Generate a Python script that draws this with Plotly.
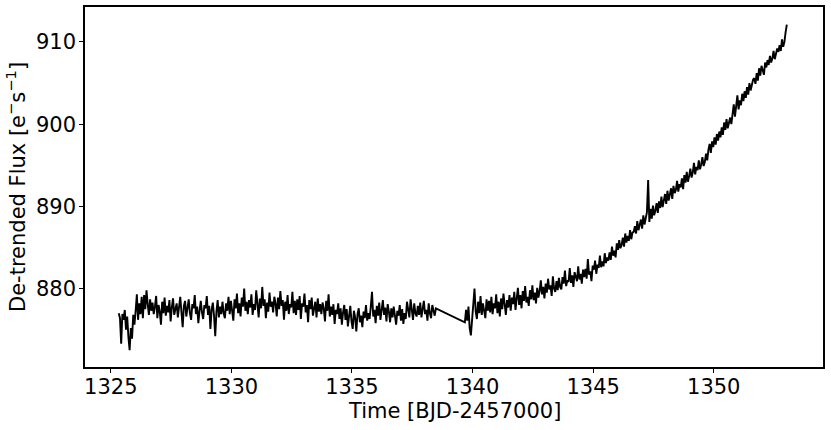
import numpy as np
import plotly.graph_objects as go

# Segment 1 (orbit 1), cadence 0.05 d starting 1325.33
t1_start = 1325.33
flux1 = [
    877.0, 876.4, 873.3, 876.9,
    876.2, 877.4, 875.0, 876.6, 874.1, 872.5, 875.2, 873.9, 876.8, 875.6,
    877.3, 879.3, 876.2, 878.2, 876.9, 879.0, 876.4, 879.2, 877.5, 879.8, 878.1, 876.8, 878.7, 877.3,
    878.3, 876.9, 877.8, 879.1, 876.4, 878.0, 877.2, 875.6, 878.4, 877.0, 878.9, 876.7, 877.9, 877.1, 878.6, 876.0, 877.7, 878.8, 876.8, 877.5,
    878.2, 876.5, 877.6, 879.0, 877.1, 875.3, 877.9, 878.5, 876.6, 877.4, 878.7, 877.0, 876.2, 878.1, 877.6, 879.2, 876.9, 877.8, 875.8, 877.3,
    878.5, 877.1, 876.3, 878.0, 877.6, 879.1, 876.8, 877.9, 875.1, 877.4, 878.3, 876.7, 874.2, 877.2, 878.6, 876.5, 877.8, 876.9, 878.4, 877.0,
    876.4, 878.2, 877.3, 879.0, 876.9, 878.5, 877.5, 876.1, 878.7, 877.6, 879.4, 877.0, 878.2, 876.6, 878.9, 877.8, 880.0, 877.3, 878.4, 876.9,
    878.6, 877.7, 879.3, 876.8, 878.1, 877.4, 879.8, 878.0, 876.5, 878.8, 877.6, 880.2, 877.9, 878.7, 876.4, 878.3, 877.2, 879.5, 877.8, 878.4,
    877.1, 879.0, 878.2, 876.6, 878.9, 877.5, 879.7, 877.9, 878.6, 876.2, 878.4, 877.3, 879.2, 876.9, 878.1, 877.7, 879.6, 877.0, 878.5, 876.8,
    878.7, 877.4, 879.1, 876.3, 878.2, 877.8, 879.4, 877.1, 878.0, 875.9, 878.6, 877.5, 878.9, 876.7, 877.9, 878.4, 876.5, 878.8, 877.2, 878.1,
    876.9, 878.3, 877.6, 876.0, 878.5, 877.3, 879.3, 876.6, 877.8, 876.8, 878.1, 875.7, 877.4, 876.9, 878.2, 876.3, 877.6, 875.6, 877.1, 878.0,
    876.2, 877.5, 875.4, 876.8, 877.9, 876.0, 875.1, 877.3, 876.5, 874.8, 876.9, 877.6, 875.9, 876.7, 875.3, 877.2, 876.4, 878.0, 876.1, 877.0,
    876.3, 877.8, 879.6, 876.6, 877.4, 875.8, 877.9, 876.7, 878.3, 876.2, 877.5, 878.6, 876.8, 877.7, 876.0, 878.1, 877.2, 875.9, 877.6, 876.5,
    877.8, 876.4, 875.6, 877.3, 876.7, 878.0, 876.1, 877.5, 875.7, 877.0, 876.3, 878.4, 877.1, 876.5, 878.7, 877.4, 876.2, 878.2, 877.0, 876.6,
    877.9, 876.8, 878.3, 876.5, 877.6, 878.5, 876.9, 877.4, 876.1, 878.2, 877.0, 876.4, 878.0, 877.3, 876.7, 877.6,
]

# Segment 2 (orbit 2), cadence 0.05 d starting 1339.68
t2_start = 1339.68
flux2 = [
    875.9, 877.4, 876.1, 877.8, 875.2, 874.3, 876.5, 878.9, 880.0, 877.2, 876.3, 878.4, 877.0, 879.1, 876.8, 878.2, 877.5, 876.4, 878.7, 877.3,
    878.5, 877.1, 879.0, 876.9, 878.2, 877.6, 879.3, 877.0, 878.4, 876.6, 878.8, 877.5, 879.4, 877.9, 876.8, 878.6, 877.7, 879.2, 877.3, 878.9,
    878.1, 879.6, 877.4, 878.8, 880.1, 878.0, 879.2, 877.6, 879.7, 878.5, 880.3, 878.3, 879.0, 877.9, 879.8, 878.7, 880.4, 878.6, 879.5, 878.2,
    880.1, 878.9, 879.7, 881.0, 879.3, 880.2, 878.8, 880.6, 879.5, 881.2, 879.9, 880.4, 879.1, 881.5, 880.0, 879.6, 880.9, 879.8, 881.3, 880.2,
    879.9, 881.4, 880.6, 882.2, 880.3, 881.0, 880.8, 882.5, 880.7, 881.6, 880.2, 882.0, 881.3, 880.9, 882.7, 881.1, 881.8, 880.6, 882.3, 881.4,
    882.4, 881.2, 883.6, 881.7, 882.1, 880.9, 882.8, 882.3, 883.4, 881.8, 882.9, 882.5, 884.0, 882.6, 883.3, 882.7, 884.3, 883.1, 883.8, 883.4,
    884.4, 883.5, 885.1, 884.0, 884.6, 883.8, 885.5, 884.7, 885.9, 884.9, 885.3, 886.2, 885.1, 886.7, 885.6, 886.4, 885.8, 887.1, 886.0, 886.8,
    886.9, 887.6, 886.7, 888.2, 887.1, 887.9, 888.4, 887.3, 888.9, 887.8, 888.6, 889.3, 893.2, 888.1, 889.7, 888.5, 890.1, 888.9, 889.5, 890.4,
    889.2, 890.6, 889.8, 891.2, 889.9, 890.8, 891.5, 890.3, 891.9, 890.7, 891.4, 892.2, 890.9, 892.5, 891.6, 892.0, 893.1, 891.8, 892.7, 892.3,
    893.4, 892.1, 893.8, 892.9, 894.2, 893.0, 893.7, 894.6, 893.5, 894.1, 895.3, 893.9, 894.8, 894.4, 895.6, 894.5, 895.1, 896.0, 894.9, 895.4,
    896.4, 895.6, 896.9, 897.6, 896.5, 897.9, 897.2, 898.4, 897.5, 898.8, 898.0, 899.1, 898.4, 899.6, 898.7, 900.2, 899.3, 900.6, 899.5, 900.1,
    900.8, 900.0, 901.6, 902.4, 900.9, 902.1, 903.5, 901.8, 902.9, 902.3, 903.7, 902.8, 904.0, 903.2, 904.5, 903.6, 905.0, 904.1, 904.8, 905.4,
    905.6, 904.9, 906.2, 905.3, 906.8, 905.9, 907.1, 906.4, 906.0, 907.5, 906.9, 907.8, 907.2, 908.3, 907.5, 908.0, 908.9, 907.9, 908.6, 909.2,
    908.8, 909.6, 908.9, 910.3, 909.4, 910.0, 911.2, 912.1,
]

cadence = 0.05
x_ticks = [1325, 1330, 1335, 1340, 1345, 1350]
y_ticks = [880, 890, 900, 910]
x_title = "Time [BJD-2457000]"
y_title = "De-trended Flux [e<sup>−</sup>s<sup>−1</sup>]"

time1 = t1_start + cadence * np.arange(len(flux1))
time2 = t2_start + cadence * np.arange(len(flux2))
time = np.concatenate([time1, time2])
flux = np.concatenate([flux1, flux2])

fig = go.Figure(go.Scatter(x=time, y=flux, mode="lines",
                           line=dict(color="black", width=1.9),
                           showlegend=False, hoverinfo="skip"))

font = dict(family="DejaVu Sans", size=21, color="black")
axis_common = dict(showgrid=False, zeroline=False, showline=True, linecolor="black",
                   linewidth=1.6, mirror=True, ticks="outside", ticklen=4,
                   tickwidth=1.3, tickcolor="black", tickfont=font, automargin=False)

fig.update_xaxes(range=[1323.93, 1354.53], tickvals=x_ticks, ticklabelstandoff=-4,
                 **axis_common)
fig.update_yaxes(range=[870.46, 914.25], tickvals=y_ticks, ticklabelstandoff=-1,
                 **axis_common)

fig.add_annotation(text=x_title, xref="paper", yref="paper", x=0.5, y=0,
                   xanchor="center", yanchor="middle", yshift=-44,
                   showarrow=False, font=font)
fig.add_annotation(text=y_title, xref="paper", yref="paper", x=0, y=0.5,
                   xanchor="center", yanchor="middle", xshift=-69, textangle=-90,
                   showarrow=False, font=font)

fig.update_layout(width=831, height=430, margin=dict(l=85, r=8, t=7, b=63),
                  plot_bgcolor="white", paper_bgcolor="white", font=font)

fig.write_html("out.html", config={"displayModeBar": False},
               post_script="document.body.style.margin='0';")
